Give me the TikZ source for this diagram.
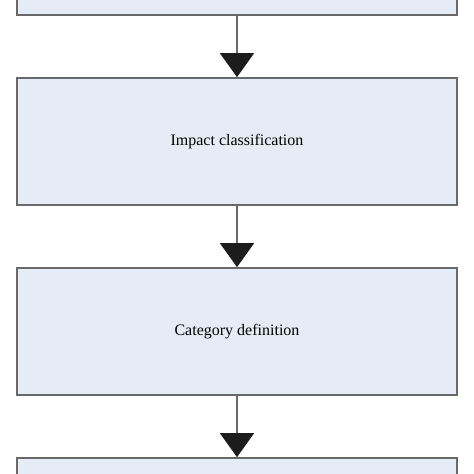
\documentclass[tikz,border=0pt]{standalone}
\usepackage{fontspec}
\setmainfont{Liberation Serif}
\usetikzlibrary{arrows.meta}
\definecolor{boxfill}{RGB}{230,236,246}
\definecolor{boxline}{RGB}{105,105,105}
\definecolor{headfill}{RGB}{28,28,28}
\begin{document}
\begin{tikzpicture}[x=1pt,y=-1pt,>={Triangle[width=34pt,length=24pt,color=headfill]},
  stepbox/.style={draw=boxline,fill=boxfill,line width=1.1pt,minimum width=440pt,minimum height=127pt,inner sep=0pt,font=\fontsize{16}{18}\selectfont},
  flow/.style={draw=boxline,line width=1.3pt,->,shorten >=0.3pt}]
\useasboundingbox (0,0) rectangle (474,474);
\clip (0,0) rectangle (474,474);
\node[stepbox] (prev) at (237,-48.5) {};
\node[stepbox] (impact) at (237,141.5) {Impact classification};
\node[stepbox] (category) at (237,331.5) {Category definition};
\node[stepbox] (next) at (237,521.5) {};
\draw[flow](prev)--(impact);
\draw[flow](impact)--(category);
\draw[flow](category)--(next);
\end{tikzpicture}
\end{document}
